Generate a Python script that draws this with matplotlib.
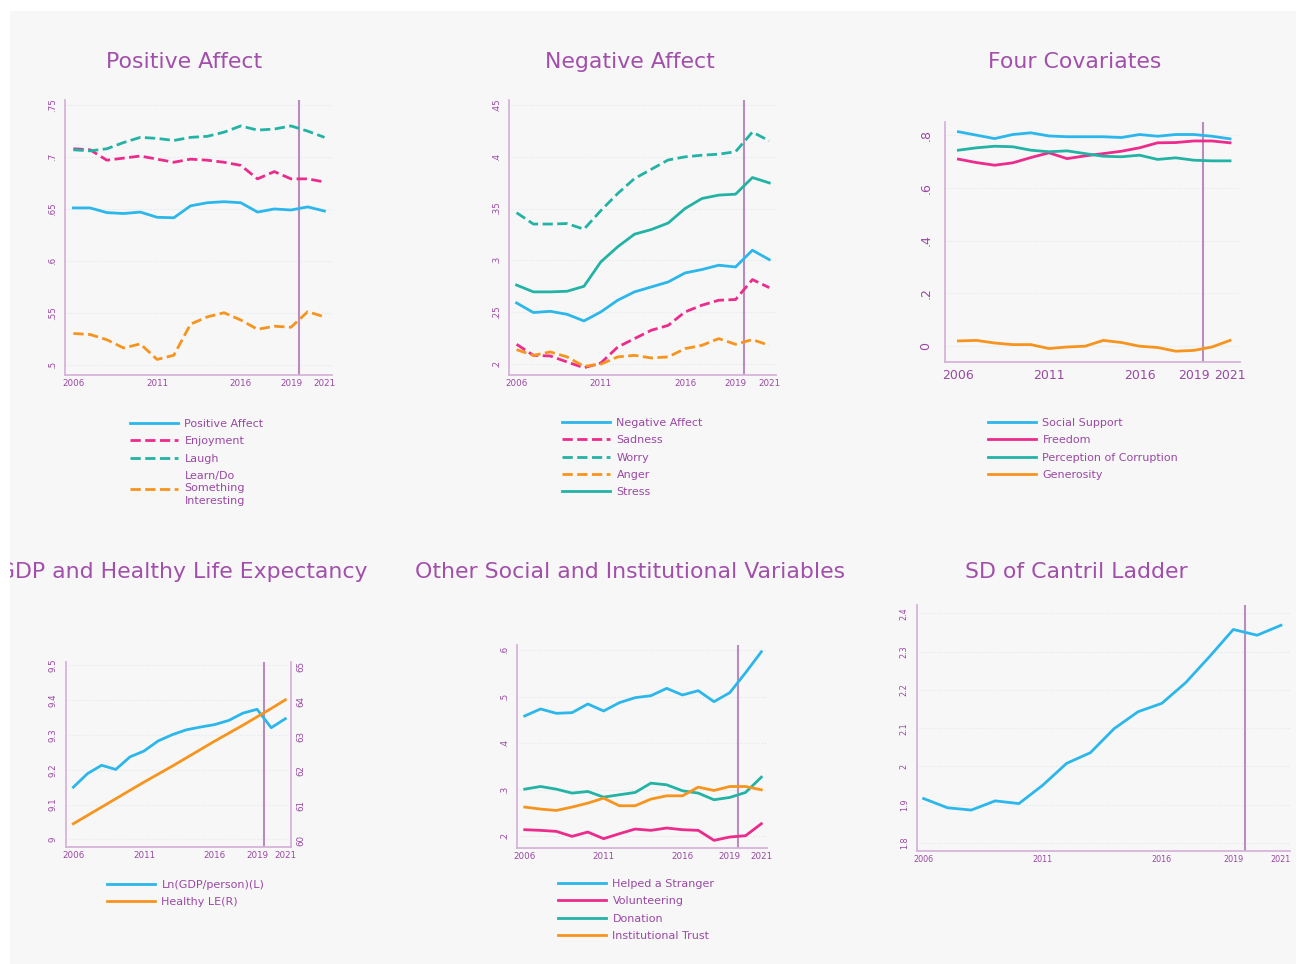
import matplotlib
matplotlib.use('Agg')
import matplotlib.pyplot as plt
from matplotlib.patches import Rectangle

plt.rcParams['font.family'] = ['DejaVu Sans']

years = list(range(2006, 2022))

# Positive Affect panel
positive_affect = [0.651, 0.651, 0.6465, 0.6456, 0.647, 0.642, 0.6415, 0.653, 0.656, 0.657, 0.656, 0.647, 0.650, 0.649, 0.652, 0.648]
enjoyment = [0.708, 0.707, 0.697, 0.699, 0.701, 0.698, 0.695, 0.698, 0.697, 0.695, 0.692, 0.679, 0.686, 0.679, 0.679, 0.676]
laugh = [0.707, 0.706, 0.708, 0.714, 0.719, 0.718, 0.716, 0.719, 0.720, 0.724, 0.730, 0.726, 0.727, 0.730, 0.725, 0.719]
learn = [0.530, 0.529, 0.524, 0.516, 0.520, 0.505, 0.509, 0.539, 0.546, 0.550, 0.543, 0.534, 0.537, 0.536, 0.551, 0.546]

# Negative Affect panel
negative_affect = [0.2587, 0.2494, 0.2506, 0.2477, 0.2413, 0.250, 0.2613, 0.2694, 0.2742, 0.279, 0.2877, 0.291, 0.2952, 0.2935, 0.3097, 0.3006]
sadness = [0.2187, 0.208, 0.2074, 0.2016, 0.196, 0.2006, 0.216, 0.2242, 0.2323, 0.237, 0.250, 0.2565, 0.2613, 0.262, 0.2813, 0.2735]
worry = [0.346, 0.335, 0.335, 0.3355, 0.330, 0.348, 0.3645, 0.379, 0.388, 0.397, 0.400, 0.4016, 0.4026, 0.405, 0.424, 0.4155]
anger = [0.2135, 0.208, 0.2113, 0.2065, 0.1974, 0.1994, 0.2065, 0.208, 0.2055, 0.2065, 0.2145, 0.2177, 0.2242, 0.2187, 0.2232, 0.2177]
stress = [0.276, 0.2694, 0.2694, 0.270, 0.2748, 0.2984, 0.313, 0.3252, 0.3297, 0.336, 0.350, 0.3597, 0.363, 0.3639, 0.380, 0.3748]

# Four Covariates panel
social_support = [0.813, 0.800, 0.787, 0.8025, 0.809, 0.797, 0.794, 0.794, 0.794, 0.791, 0.8025, 0.796, 0.8025, 0.8025, 0.796, 0.786]
freedom = [0.709, 0.696, 0.686, 0.695, 0.715, 0.733, 0.711, 0.7215, 0.730, 0.739, 0.752, 0.771, 0.772, 0.778, 0.778, 0.771]
corruption = [0.743, 0.752, 0.758, 0.756, 0.743, 0.737, 0.7405, 0.730, 0.720, 0.718, 0.724, 0.708, 0.714, 0.705, 0.7025, 0.7025]
generosity = [0.019, 0.021, 0.011, 0.005, 0.005, -0.010, -0.004, -0.001, 0.021, 0.013, -0.001, -0.006, -0.020, -0.017, -0.004, 0.021]

# GDP and Healthy Life Expectancy panel
ln_gdp = [9.150, 9.189, 9.213, 9.201, 9.237, 9.254, 9.283, 9.301, 9.315, 9.323, 9.330, 9.342, 9.363, 9.374, 9.321, 9.347]
healthy_le = [60.48, 60.72, 60.96, 61.20, 61.44, 61.68, 61.91, 62.14, 62.38, 62.62, 62.86, 63.09, 63.32, 63.56, 63.80, 64.05]

# Other Social and Institutional Variables panel
helped_stranger = [0.4586, 0.4736, 0.4643, 0.4657, 0.4843, 0.4693, 0.4871, 0.4979, 0.5021, 0.5179, 0.5036, 0.5129, 0.4893, 0.5086, 0.5514, 0.5964]
volunteering = [0.2143, 0.2129, 0.2107, 0.200, 0.2093, 0.195, 0.2057, 0.2157, 0.2129, 0.2179, 0.2143, 0.2129, 0.1914, 0.1986, 0.2014, 0.2271]
donation = [0.3014, 0.3071, 0.3014, 0.2929, 0.2964, 0.2843, 0.2893, 0.2943, 0.3143, 0.3107, 0.2979, 0.2929, 0.2786, 0.2836, 0.2943, 0.3271]
inst_trust = [0.2629, 0.2586, 0.2557, 0.2629, 0.2714, 0.2821, 0.2657, 0.2657, 0.280, 0.2871, 0.2871, 0.3057, 0.2986, 0.3071, 0.3071, 0.300]

# SD of Cantril Ladder panel
sd_ladder = [1.916, 1.892, 1.886, 1.910, 1.903, 1.951, 2.008, 2.036, 2.099, 2.143, 2.165, 2.219, 2.287, 2.358, 2.343, 2.369]

xticks = [2006, 2011, 2016, 2019, 2021]
xtick_labels = ['2006', '2011', '2016', '2019', '2021']

BLUE = '#2bb7ec'
PINK = '#ec2b8c'
TEAL = '#22b3a5'
ORANGE = '#f7941d'
PURPLE = '#9a48a4'
TITLE = '#a24fab'
SPINE = '#d6b3da'
VLINE = '#b98cbd'
GRID = '#dfe7ec'
LW = 2.0
LEG_FS = 8.0

W, H = 1299, 964
fig = plt.figure(figsize=(W / 100, H / 100), dpi=100)
fig.patch.set_facecolor('white')
bg = Rectangle((10 / W, 0), (1296 - 10) / W, (964 - 11) / H, transform=fig.transFigure,
               facecolor='#f7f7f7', edgecolor='none', zorder=-10)
fig.patches.append(bg)


def px_axes(l, t, r, b):
    return fig.add_axes([l / W, 1 - b / H, (r - l) / W, (b - t) / H])


def style(ax, xlim, ylim, yticks, ylabels, fs=6.3, ypad=6, xpad=3):
    ax.set_facecolor('none')
    for s in ['top', 'right']:
        ax.spines[s].set_visible(False)
    for s in ['left', 'bottom']:
        ax.spines[s].set_color(SPINE)
        ax.spines[s].set_linewidth(1.3)
    ax.set_xlim(*xlim)
    ax.set_ylim(*ylim)
    ax.set_xticks(xticks)
    ax.set_xticklabels(xtick_labels)
    ax.set_yticks(yticks)
    ax.set_yticklabels(ylabels, rotation=90, va='center')
    ax.tick_params(axis='both', length=0, colors=PURPLE, labelsize=fs)
    ax.tick_params(axis='y', pad=ypad)
    ax.tick_params(axis='x', pad=xpad)
    ax.grid(axis='y', linestyle=':', color=GRID, linewidth=0.8)
    ax.set_axisbelow(True)
    ax.axvline(2019.5, color=VLINE, linewidth=1.5, zorder=1)


def leg_kw(x, y):
    return dict(loc='upper left', bbox_to_anchor=(x / W, 1 - y / H), bbox_transform=fig.transFigure,
                frameon=False, fontsize=LEG_FS, labelcolor=PURPLE, handlelength=4.3, handletextpad=0.6,
                labelspacing=0.66, borderpad=0, borderaxespad=0)


def finish_leg(lg):
    for t in lg.get_texts():
        t.set_linespacing(1.3)


def title(x, y, text, ha='center'):
    t = fig.text(x / W, 1 - y / H, text, ha=ha, va='center', color=TITLE, fontsize=15.8)
    t.set_clip_path(bg)
    t.set_clip_on(True)


# Panel 1
ax1 = px_axes(65, 100, 332, 375)
ax1.plot(years, positive_affect, color=BLUE, lw=LW, label='Positive Affect')
ax1.plot(years, enjoyment, color=PINK, lw=LW, ls='--', label='Enjoyment')
ax1.plot(years, laugh, color=TEAL, lw=LW, ls='--', label='Laugh')
ax1.plot(years, learn, color=ORANGE, lw=LW, ls='--', label='Learn/Do\nSomething\nInteresting')
style(ax1, (2005.5, 2021.45), (0.49, 0.755), [0.5, 0.55, 0.6, 0.65, 0.7, 0.75],
      ['.5', '.55', '.6', '.65', '.7', '.75'])
finish_leg(ax1.legend(**leg_kw(130, 419)))
title(184, 62, 'Positive Affect')

# Panel 2
ax2 = px_axes(509, 100, 776, 375)
ax2.plot(years, negative_affect, color=BLUE, lw=LW, label='Negative Affect')
ax2.plot(years, sadness, color=PINK, lw=LW, ls='--', label='Sadness')
ax2.plot(years, worry, color=TEAL, lw=LW, ls='--', label='Worry')
ax2.plot(years, anger, color=ORANGE, lw=LW, ls='--', label='Anger')
ax2.plot(years, stress, color=TEAL, lw=LW, label='Stress')
style(ax2, (2005.55, 2021.4), (0.189, 0.455), [0.2, 0.25, 0.3, 0.35, 0.4, 0.45],
      ['.2', '.25', '.3', '.35', '.4', '.45'])
finish_leg(ax2.legend(**leg_kw(562, 418)))
title(630, 62, 'Negative Affect')

# Panel 3
ax3 = px_axes(945, 122, 1240, 362)
ax3.plot(years, social_support, color=BLUE, lw=LW, label='Social Support')
ax3.plot(years, freedom, color=PINK, lw=LW, label='Freedom')
ax3.plot(years, corruption, color=TEAL, lw=LW, label='Perception of Corruption')
ax3.plot(years, generosity, color=ORANGE, lw=LW, label='Generosity')
style(ax3, (2005.26, 2021.55), (-0.061, 0.85), [0, 0.2, 0.4, 0.6, 0.8],
      ['0', '.2', '.4', '.6', '.8'], fs=9.0, ypad=9, xpad=5)
finish_leg(ax3.legend(**leg_kw(988, 418)))
title(1075, 62, 'Four Covariates')

# Panel 4
ax4 = px_axes(66, 662, 291, 847)
ax4.plot(years, ln_gdp, color=BLUE, lw=LW, label='Ln(GDP/person)(L)')
style(ax4, (2005.48, 2021.4), (8.978, 9.51), [9.0, 9.1, 9.2, 9.3, 9.4, 9.5],
      ['9', '9.1', '9.2', '9.3', '9.4', '9.5'])
ax4r = ax4.twinx()
ax4r.plot(years, healthy_le, color=ORANGE, lw=LW, label='Healthy LE(R)')
ax4r.set_ylim(59.81, 65.14)
ax4r.set_yticks([60, 61, 62, 63, 64, 65])
ax4r.set_yticklabels(['60', '61', '62', '63', '64', '65'], rotation=90, va='center')
ax4r.tick_params(axis='y', length=0, colors=PURPLE, labelsize=6.3, pad=4)
for s in ['top', 'left', 'bottom']:
    ax4r.spines[s].set_visible(False)
ax4r.spines['right'].set_color(SPINE)
ax4r.spines['right'].set_linewidth(1.3)
h1, l1 = ax4.get_legend_handles_labels()
h2, l2 = ax4r.get_legend_handles_labels()
finish_leg(ax4r.legend(h1 + h2, l1 + l2, **leg_kw(107, 880)))
title(368, 572, 'GDP and Healthy Life Expectancy', ha='right')

# Panel 5
ax5 = px_axes(517, 645, 767, 848)
ax5.plot(years, helped_stranger, color=BLUE, lw=LW, label='Helped a Stranger')
ax5.plot(years, volunteering, color=PINK, lw=LW, label='Volunteering')
ax5.plot(years, donation, color=TEAL, lw=LW, label='Donation')
ax5.plot(years, inst_trust, color=ORANGE, lw=LW, label='Institutional Trust')
style(ax5, (2005.51, 2021.36), (0.175, 0.611), [0.2, 0.3, 0.4, 0.5, 0.6],
      ['.2', '.3', '.4', '.5', '.6'])
finish_leg(ax5.legend(**leg_kw(558, 879)))
title(630, 572, 'Other Social and Institutional Variables')

# Panel 6
ax6 = px_axes(917, 605, 1290, 851)
ax6.plot(years, sd_ladder, color=BLUE, lw=LW)
style(ax6, (2005.72, 2021.38), (1.779, 2.422), [1.8, 1.9, 2.0, 2.1, 2.2, 2.3, 2.4],
      ['1.8', '1.9', '2', '2.1', '2.2', '2.3', '2.4'], fs=5.8)
title(1076, 572, 'SD of Cantril Ladder')

fig.savefig('out.png', dpi=100, facecolor=fig.get_facecolor())
